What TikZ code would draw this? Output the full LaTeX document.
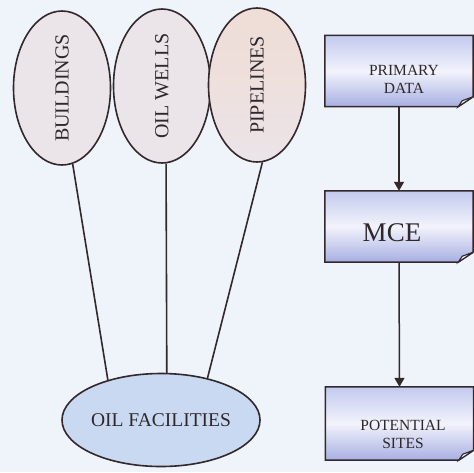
\documentclass[tikz,border=0pt]{standalone}
\usepackage{fontspec}
\setmainfont{Liberation Serif}
\usepackage{graphicx}
\usetikzlibrary{shapes.geometric,arrows.meta}
\definecolor{bgc}{HTML}{EEF4F9}
\definecolor{ellfill}{HTML}{EBE4E9}
\definecolor{pipefill}{HTML}{EFDDD6}
\definecolor{facfill}{HTML}{C9D9F2}
\definecolor{linec}{HTML}{33282C}
\definecolor{txt}{HTML}{2E272B}
\definecolor{boxtop}{HTML}{C2CAEE}
\definecolor{boxmid}{HTML}{F2F3FB}
\definecolor{boxbot}{HTML}{A7AFE2}
\tikzset{
  ell/.style={ellipse, draw=linec, line width=1.6pt, fill=ellfill, inner sep=0pt,
    minimum width=97pt, minimum height=154pt, text=txt,
    font=\fontsize{20}{22}\selectfont},
  fac/.style={ellipse, draw=linec, line width=1.6pt, fill=facfill, inner sep=0pt,
    minimum width=198pt, minimum height=93pt, text=txt,
    font=\fontsize{19.5}{22}\selectfont},
  boxbg/.style={draw=none, inner sep=0pt, minimum width=148pt, minimum height=71pt},
  boxtxt/.style={align=center, text=txt, inner sep=0pt},
  conn/.style={draw=linec, line width=1.6pt},
  arr/.style={draw=linec, line width=1.5pt, -{Triangle[width=10pt,length=9pt]}},
  docshape/.style={draw=linec, line width=1.5pt, top color=boxtop, bottom color=boxbot, middle color=boxmid}
}
\newcommand{\docbox}[1]{%
  \path[docshape] (#1.north west) -- (#1.north east) -- ([yshift=10pt]#1.south east)
    -- ([xshift=-15pt]#1.south east) -- (#1.south west) -- cycle;
  \path[draw=linec, line width=1.1pt, fill=white!85!boxbot]
    ([xshift=-15pt]#1.south east) -- ([xshift=-11pt,yshift=6pt]#1.south east)
    -- ([yshift=10pt]#1.south east) -- cycle;
}
\begin{document}
\begin{tikzpicture}[x=1pt,y=-1pt]
\fill[bgc] (0,0) rectangle (474,472);
\useasboundingbox (0,0) rectangle (474,472);

\node[ell] (b) at (62,88) {\rotatebox{90}{BUILDINGS}};
\node[ell] (w) at (162,86) {\rotatebox{90}{OIL WELLS}};
\node[ell, top color=pipefill, bottom color=ellfill, middle color=pipefill!60!ellfill] (p) at (257,85) {\rotatebox{90}{PIPELINES}};
\node[fac] (f) at (161,420) {OIL FACILITIES};

\draw[conn] (b.-82) -- (f.143);
\draw[conn] (w.-87) -- (f.83);
\draw[conn] (p.-86) -- (f.42);

\node[boxbg] (pd) at (399,71) {};
\node[boxbg] (mce) at (399,226.5) {};
\node[boxbg, minimum height=73pt] (ps) at (399.5,423.5) {};
\docbox{pd}
\docbox{mce}
\docbox{ps}
\node[boxtxt, font=\fontsize{15.5}{18}\selectfont] (pdt) at (404,79) {PRIMARY\\DATA};
\node[boxtxt, font=\fontsize{27}{30}\selectfont] (mcet) at (392,233) {MCE};
\node[boxtxt, font=\fontsize{15.5}{18}\selectfont] (pst) at (403,434) {POTENTIAL\\SITES};

\draw[arr] (pd.south) -- (mce.north);
\draw[arr] (mce.south) -- (ps.north);
\end{tikzpicture}
\end{document}
